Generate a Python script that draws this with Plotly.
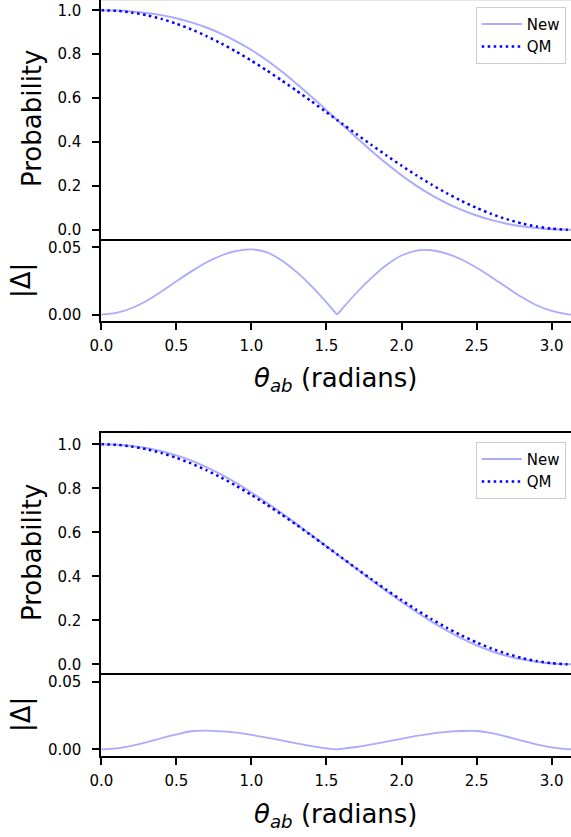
import plotly.graph_objects as go

# ---- data ----
theta = [0.0, 0.1, 0.2, 0.3, 0.4, 0.5, 0.6, 0.7, 0.8, 0.9, 1.0, 1.1, 1.2, 1.3, 1.4, 1.5,
         1.5708, 1.6, 1.7, 1.8, 1.9, 2.0, 2.1, 2.2, 2.3, 2.4, 2.5, 2.6, 2.7, 2.8, 2.9, 3.0,
         3.1, 3.1416]

qm = [1.0000, 0.9975, 0.9900, 0.9777, 0.9605, 0.9388, 0.9127, 0.8824, 0.8484, 0.8108,
      0.7702, 0.7268, 0.6812, 0.6338, 0.5850, 0.5354, 0.5000, 0.4854, 0.4356, 0.3864,
      0.3384, 0.2919, 0.2476, 0.2057, 0.1668, 0.1312, 0.0994, 0.0716, 0.0481, 0.0290,
      0.0147, 0.0050, 0.0004, 0.0000]

new_top = [1.0000, 0.9988, 0.9948, 0.9879, 0.9777, 0.9636, 0.9449, 0.9212, 0.8924, 0.8582,
           0.8188, 0.7733, 0.7217, 0.6656, 0.6063, 0.5446, 0.5000, 0.4816, 0.4193, 0.3590,
           0.3015, 0.2479, 0.1999, 0.1578, 0.1214, 0.0902, 0.0645, 0.0437, 0.0277, 0.0159,
           0.0077, 0.0022, 0.0000, 0.0000]

delta_top = [0.0000, 0.0013, 0.0048, 0.0102, 0.0172, 0.0248, 0.0322, 0.0388, 0.0440, 0.0474,
             0.0486, 0.0465, 0.0405, 0.0318, 0.0213, 0.0092, 0.0000, 0.0038, 0.0163, 0.0274,
             0.0369, 0.0440, 0.0477, 0.0479, 0.0454, 0.0410, 0.0349, 0.0279, 0.0204, 0.0131,
             0.0070, 0.0028, 0.0004, 0.0000]

new_bottom = [1.0000, 0.9981, 0.9925, 0.9829, 0.9687, 0.9498, 0.9261, 0.8962, 0.8617, 0.8232,
              0.7809, 0.7355, 0.6878, 0.6382, 0.5874, 0.5361, 0.5000, 0.4850, 0.4339, 0.3828,
              0.3327, 0.2841, 0.2377, 0.1940, 0.1539, 0.1176, 0.0858, 0.0596, 0.0387, 0.0226,
              0.0111, 0.0036, 0.0003, 0.0000]

delta_bottom = [0.0000, 0.0006, 0.0025, 0.0052, 0.0082, 0.0110, 0.0134, 0.0138, 0.0133, 0.0124,
                0.0107, 0.0087, 0.0066, 0.0044, 0.0024, 0.0007, 0.0000, 0.0004, 0.0017, 0.0036,
                0.0057, 0.0078, 0.0099, 0.0117, 0.0129, 0.0136, 0.0136, 0.0120, 0.0094, 0.0064,
                0.0036, 0.0014, 0.0001, 0.0000]

prob_ticks = [0.0, 0.2, 0.4, 0.6, 0.8, 1.0]
prob_labels = ["0.0", "0.2", "0.4", "0.6", "0.8", "1.0"]
delta_ticks = [0.00, 0.05]
delta_labels = ["0.00", "0.05"]
x_ticks = [0.0, 0.5, 1.0, 1.5, 2.0, 2.5, 3.0]
x_labels = ["0.0", "0.5", "1.0", "1.5", "2.0", "2.5", "3.0"]

# ---- styling ----
W, H = 571, 837
FONT = "DejaVu Sans"
NEW_COLOR = "#aaaaff"
QM_COLOR = "#0000ff"


def py(p):
    return 1 - p / H


x_dom = [101.3 / W, 1.0]
x_range = [0, 3.129]
CUSP = theta.index(1.5708)


def with_cusp_break(xs, ys):
    # repeat the cusp point with a gap so each side is smoothed on its own
    return (xs[:CUSP + 1] + [xs[CUSP]] + xs[CUSP:],
            ys[:CUSP + 1] + [None] + ys[CUSP:])


fig = go.Figure()

panels = [
    ("", "2", new_top, delta_top, "legend", True),
    ("3", "4", new_bottom, delta_bottom, "legend2", False),
]

for (pa, da, new_vals, d_vals, leg, cusp) in panels:
    fig.add_trace(go.Scatter(x=theta, y=new_vals, mode="lines", name="New",
                             line=dict(color=NEW_COLOR, width=2, shape="spline", smoothing=0.6),
                             xaxis="x" + pa, yaxis="y" + pa, legend=leg))
    fig.add_trace(go.Scatter(x=theta, y=qm, mode="lines", name="QM",
                             line=dict(color=QM_COLOR, width=2.5, dash="2.5px,3.5px",
                                       shape="spline", smoothing=0.6),
                             xaxis="x" + pa, yaxis="y" + pa, legend=leg))
    dx, dy = with_cusp_break(theta, d_vals) if cusp else (theta, d_vals)
    fig.add_trace(go.Scatter(x=dx, y=dy, mode="lines", name="|Δ|", showlegend=False,
                             connectgaps=False,
                             line=dict(color=NEW_COLOR, width=1.8, shape="spline", smoothing=0.8),
                             xaxis="x" + da, yaxis="y" + da))

common_y = dict(showgrid=False, zeroline=False, showline=True, linecolor="black", linewidth=2,
                ticks="outside", ticklen=7, tickwidth=2, tickcolor="black",
                ticklabelstandoff=8, automargin=False,
                tickfont=dict(family=FONT, size=15, color="black"))
common_xb = dict(domain=x_dom, range=x_range, showline=True, mirror=True,
                 linecolor="black", linewidth=2, showgrid=False, zeroline=False,
                 ticks="outside", ticklen=7, tickwidth=2, tickcolor="black",
                 tickvals=x_ticks, ticktext=x_labels, ticklabelstandoff=3, automargin=False,
                 tickfont=dict(family=FONT, size=15, color="black"))

legend_style = dict(xanchor="right", yanchor="top", bgcolor="white",
                    bordercolor="#cccccc", borderwidth=1, itemwidth=40,
                    font=dict(family=FONT, size=15, color="black"))

fig.update_layout(
    template="none",
    width=W, height=H,
    margin=dict(l=0, r=0, t=0, b=0, pad=0, autoexpand=False),
    paper_bgcolor="white", plot_bgcolor="white",
    font=dict(family=FONT, color="black"),
    xaxis=dict(domain=x_dom, anchor="y", range=x_range, showticklabels=False, ticks="",
               showline=False, showgrid=False, zeroline=False, automargin=False),
    yaxis=dict(domain=[py(240.7), 1.0], anchor="x", range=[-0.05, 1.0467],
               tickvals=prob_ticks, ticktext=prob_labels, **common_y),
    xaxis2=dict(anchor="y2", **common_xb),
    yaxis2=dict(domain=[py(321.4), py(240.7)], anchor="x2", range=[-0.005, 0.055],
                tickvals=delta_ticks, ticktext=delta_labels, **common_y),
    xaxis3=dict(domain=x_dom, anchor="y3", range=x_range, showticklabels=False, ticks="",
                side="top", showline=True, mirror=False, linecolor="black", linewidth=2,
                showgrid=False, zeroline=False, automargin=False),
    yaxis3=dict(domain=[py(675.3), py(433.3)], anchor="x3", range=[-0.05, 1.05],
                tickvals=prob_ticks, ticktext=prob_labels, **common_y),
    xaxis4=dict(anchor="y4", **common_xb),
    yaxis4=dict(domain=[py(756.0), py(675.3)], anchor="x4", range=[-0.005, 0.055],
                tickvals=delta_ticks, ticktext=delta_labels, **common_y),
    legend=dict(x=565.7 / W, y=py(6.7), **legend_style),
    legend2=dict(x=565.7 / W, y=py(441.7), **legend_style),
    showlegend=True,
)

fig.add_shape(type="line", xref="paper", yref="paper", x0=x_dom[0], x1=1, y0=1, y1=1,
              line=dict(color="#cccccc", width=1))

title_font = dict(family=FONT, size=26, color="black")
for yc in (119, 553):
    fig.add_annotation(text="Probability", x=32 / W, y=py(yc), xref="paper", yref="paper",
                       textangle=-90, showarrow=False, xanchor="center", yanchor="middle",
                       font=title_font)
for yc in (281, 715):
    fig.add_annotation(text="|Δ|", x=21 / W, y=py(yc), xref="paper", yref="paper",
                       textangle=-90, showarrow=False, xanchor="center", yanchor="middle",
                       font=title_font)
for yc in (380, 815):
    fig.add_annotation(text="<i>θ</i><sub><i>ab</i></sub> (radians)", x=335 / W, y=py(yc),
                       xref="paper", yref="paper", showarrow=False,
                       xanchor="center", yanchor="middle", font=title_font)

fig.write_html("out.html", config={"displayModeBar": False},
               post_script="document.body.style.margin='0';document.body.style.overflow='hidden';")
